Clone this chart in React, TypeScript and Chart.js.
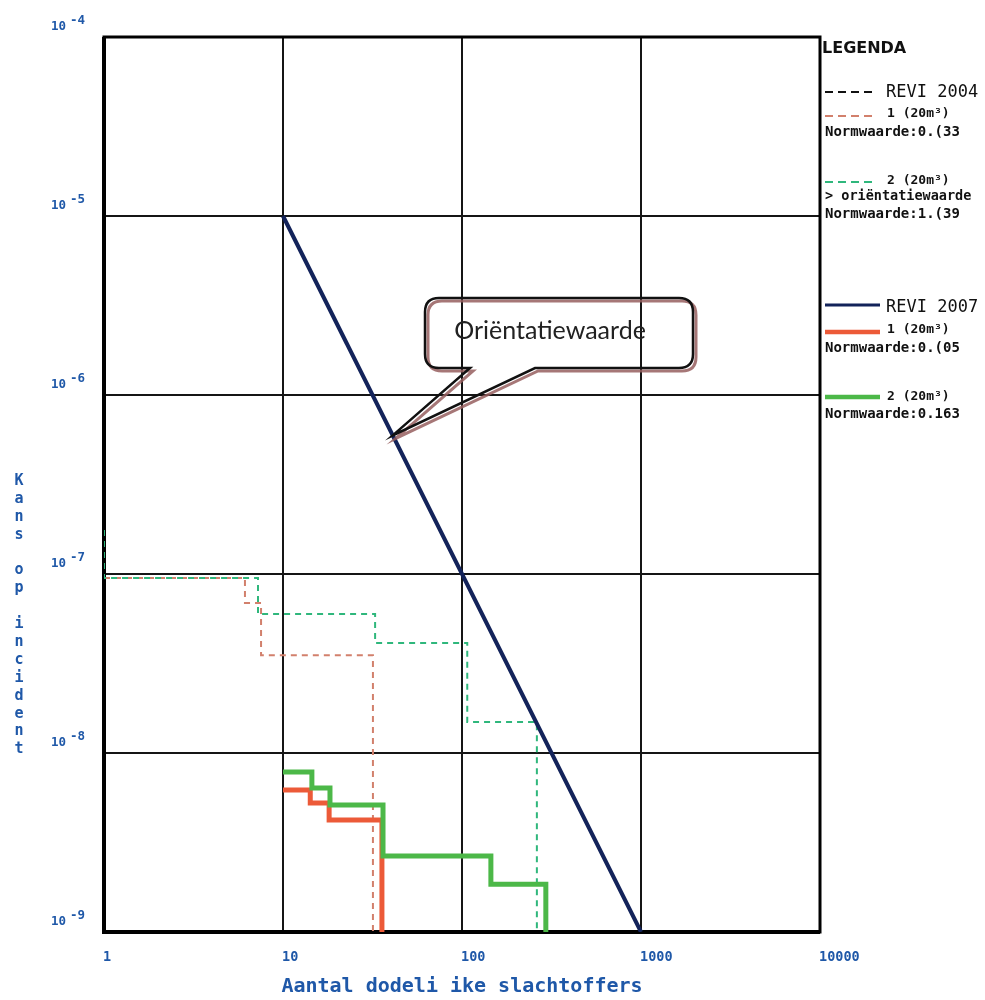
import React, { useEffect, useRef } from "react";
import { Chart, registerables } from "chart.js";

Chart.register(...registerables);

// ---- axes ----
const xTicks = [1, 10, 100, 1000, 10000];
const xTickLabels = ["1", "10", "100", "1000", "10000"];
const yTicks = [1e-9, 1e-8, 1e-7, 1e-6, 1e-5, 1e-4];
const yTickBase = "10";
const yTickExponents = ["-9", "-8", "-7", "-6", "-5", "-4"];
const xTitle = "Aantal dodeli ike slachtoffers";
const yTitle = "Kans op incident";

// ---- series (N = aantal slachtoffers, F = kans) ----
const orientN = [10, 1000];
const orientF = [1e-5, 1e-9];

const revi2007_1_N = [10, 14.2, 18.1, 35.7];
const revi2007_1_F = [6.21e-9, 5.26e-9, 4.23e-9, 1e-9];

const revi2007_2_N = [10, 14.5, 18.3, 36.2, 145, 294];
const revi2007_2_F = [7.83e-9, 6.37e-9, 5.13e-9, 2.66e-9, 1.85e-9, 1e-9];

const revi2004_1_N = [1, 6.13, 7.54, 31.8];
const revi2004_1_F = [9.5e-8, 6.89e-8, 3.52e-8, 1e-9];

const revi2004_2_N = [1, 1, 7.25, 32.7, 107, 262];
const revi2004_2_F = [1.76e-7, 9.5e-8, 5.98e-8, 4.12e-8, 1.49e-8, 1e-9];

// ---- legend texts ----
const legendTitle = "LEGENDA";
const legend2004 = ["REVI 2004", "1 (20m³)", "Normwaarde:0.(33", "2 (20m³)", "> oriëntatiewaarde", "Normwaarde:1.(39"];
const legend2007 = ["REVI 2007", "1 (20m³)", "Normwaarde:0.(05", "2 (20m³)", "Normwaarde:0.163"];
const calloutText = "Oriëntatiewaarde";
const calloutTipN = 41;

const NAVY = "#13235a";
const RED = "#ec5a38";
const GREEN = "#4cb848";
const RED_DASH = "#d2806c";
const GREEN_DASH = "#2fb77c";
const BLUE_TXT = "#1f58a8";
const MONO = "'DejaVu Sans Mono', monospace";

const pts = (n: number[], f: number[]) => n.map((v, i) => ({ x: v, y: f[i] }));

const decorPlugin = {
  id: "decor",
  beforeDatasetsDraw(chart: any) {
    const { ctx, chartArea: a } = chart;
    ctx.save();
    ctx.strokeStyle = "#000";
    ctx.lineWidth = 3;
    ctx.strokeRect(a.left, a.top, a.right - a.left, a.bottom - a.top);
    ctx.lineWidth = 4;
    ctx.beginPath();
    ctx.moveTo(a.left, a.top);
    ctx.lineTo(a.left, a.bottom);
    ctx.lineTo(a.right, a.bottom);
    ctx.stroke();
    ctx.restore();
  },
  afterDraw(chart: any) {
    const { ctx, chartArea: a } = chart;
    const xs = chart.scales.x;
    const ys = chart.scales.y;
    ctx.save();

    // x tick labels
    ctx.fillStyle = BLUE_TXT;
    ctx.font = `bold 13.5px ${MONO}`;
    ctx.textBaseline = "middle";
    ctx.textAlign = "left";
    xTicks.forEach((v, i) => {
      const px = xs.getPixelForValue(v);
      ctx.fillText(xTickLabels[i], px - 1, a.bottom + 25);
    });

    // y tick labels
    ctx.font = `bold 12.5px ${MONO}`;
    yTicks.forEach((v, i) => {
      const py = ys.getPixelForValue(v);
      ctx.fillText(yTickBase, 51, py - 10);
      ctx.fillText(yTickExponents[i], 70, py - 16);
    });

    // x title
    ctx.font = `bold 20px ${MONO}`;
    ctx.textAlign = "center";
    ctx.fillText(xTitle, (a.left + a.right) / 2, 987);

    // y title (stacked letters)
    ctx.font = `bold 15px ${MONO}`;
    const chars = Array.from(yTitle);
    chars.forEach((c, i) => {
      if (c !== " ") ctx.fillText(c, 19, 481 + i * 17.9);
    });

    // legend
    const lx = 825;
    ctx.textAlign = "left";
    ctx.fillStyle = "#111";
    ctx.font = "bold 16px 'DejaVu Sans', sans-serif";
    ctx.fillText(legendTitle, 822, 49);

    const dashLine = (y: number, color: string) => {
      ctx.save();
      ctx.strokeStyle = color;
      ctx.lineWidth = 2;
      ctx.setLineDash([8, 5]);
      ctx.beginPath();
      ctx.moveTo(lx, y);
      ctx.lineTo(lx + 52, y);
      ctx.stroke();
      ctx.restore();
    };
    const solidLine = (y: number, color: string, w: number) => {
      ctx.save();
      ctx.strokeStyle = color;
      ctx.lineWidth = w;
      ctx.beginPath();
      ctx.moveTo(lx, y);
      ctx.lineTo(lx + 55, y);
      ctx.stroke();
      ctx.restore();
    };

    dashLine(92, "#111");
    ctx.font = `17px ${MONO}`;
    ctx.fillText(legend2004[0], 886, 93);
    dashLine(116, RED_DASH);
    ctx.font = `bold 13px ${MONO}`;
    ctx.fillText(legend2004[1], 887, 114);
    ctx.font = `bold 14px ${MONO}`;
    ctx.fillText(legend2004[2], lx, 132);
    dashLine(182, GREEN_DASH);
    ctx.font = `bold 13px ${MONO}`;
    ctx.fillText(legend2004[3], 887, 181);
    ctx.font = `bold 13.5px ${MONO}`;
    ctx.fillText(legend2004[4], lx, 196);
    ctx.font = `bold 14px ${MONO}`;
    ctx.fillText(legend2004[5], lx, 214);

    solidLine(305, NAVY, 3);
    ctx.font = `17px ${MONO}`;
    ctx.fillText(legend2007[0], 886, 308);
    solidLine(332, RED, 4.5);
    ctx.font = `bold 13px ${MONO}`;
    ctx.fillText(legend2007[1], 887, 330);
    ctx.font = `bold 14px ${MONO}`;
    ctx.fillText(legend2007[2], lx, 348);
    solidLine(397, GREEN, 4.5);
    ctx.font = `bold 13px ${MONO}`;
    ctx.fillText(legend2007[3], 887, 397);
    ctx.font = `bold 14px ${MONO}`;
    ctx.fillText(legend2007[4], lx, 414);

    // callout
    const tipX = xs.getPixelForValue(calloutTipN);
    const tipY = ys.getPixelForValue(1e-3 / (calloutTipN * calloutTipN));
    const path = (dx: number, dy: number) => {
      const L = 425 + dx, T = 298 + dy, R = 693 + dx, B = 368 + dy, r = 14;
      ctx.beginPath();
      ctx.moveTo(L + r, T);
      ctx.lineTo(R - r, T);
      ctx.quadraticCurveTo(R, T, R, T + r);
      ctx.lineTo(R, B - r);
      ctx.quadraticCurveTo(R, B, R - r, B);
      ctx.lineTo(535 + dx, B);
      ctx.lineTo(tipX + dx, tipY + dy);
      ctx.lineTo(470 + dx, B);
      ctx.lineTo(L + r, B);
      ctx.quadraticCurveTo(L, B, L, B - r);
      ctx.lineTo(L, T + r);
      ctx.quadraticCurveTo(L, T, L + r, T);
      ctx.closePath();
    };
    ctx.lineJoin = "miter";
    ctx.strokeStyle = "rgba(150,95,95,0.85)";
    ctx.lineWidth = 3;
    path(3, 3);
    ctx.stroke();
    ctx.strokeStyle = "#111";
    ctx.lineWidth = 2.5;
    path(0, 0);
    ctx.stroke();
    ctx.fillStyle = "#222";
    ctx.font = "25px Lato, 'Open Sans', sans-serif";
    ctx.textAlign = "center";
    ctx.textBaseline = "middle";
    ctx.fillText(calloutText, 550, 331);

    ctx.restore();
  },
};

export default function App() {
  const ref = useRef<HTMLCanvasElement>(null);
  useEffect(() => {
    const chart = new Chart(ref.current as HTMLCanvasElement, {
      type: "line",
      data: {
        datasets: [
          {
            label: "Oriëntatiewaarde",
            data: pts(orientN, orientF),
            borderColor: NAVY,
            borderWidth: 4,
            pointRadius: 0,
          },
          {
            label: "REVI 2007 2 (20m³)",
            data: pts(revi2007_2_N, revi2007_2_F),
            borderColor: GREEN,
            borderWidth: 5,
            pointRadius: 0,
            stepped: true,
          },
          {
            label: "REVI 2007 1 (20m³)",
            data: pts(revi2007_1_N, revi2007_1_F),
            borderColor: RED,
            borderWidth: 5,
            pointRadius: 0,
            stepped: true,
          },
          {
            label: "REVI 2004 2 (20m³)",
            data: pts(revi2004_2_N, revi2004_2_F),
            borderColor: GREEN_DASH,
            borderWidth: 2,
            borderDash: [6, 5],
            pointRadius: 0,
            stepped: true,
          },
          {
            label: "REVI 2004 1 (20m³)",
            data: pts(revi2004_1_N, revi2004_1_F),
            borderColor: RED_DASH,
            borderWidth: 2,
            borderDash: [6, 5],
            pointRadius: 0,
            stepped: true,
          },
        ],
      },
      options: {
        animation: false,
        responsive: false,
        devicePixelRatio: 1,
        layout: { padding: { left: 104, right: 165, top: 37, bottom: 68 } },
        plugins: { legend: { display: false }, tooltip: { enabled: false } },
        scales: {
          x: {
            type: "logarithmic",
            min: 1,
            max: 10000,
            afterBuildTicks: (s: any) => {
              s.ticks = xTicks.map((v) => ({ value: v }));
            },
            afterFit: (s: any) => {
              s.height = 0;
            },
            ticks: { display: false },
            grid: { color: "#151515", lineWidth: 2, drawTicks: false },
            border: { display: false },
          },
          y: {
            type: "logarithmic",
            min: 1e-9,
            max: 1e-4,
            afterBuildTicks: (s: any) => {
              s.ticks = yTicks.map((v) => ({ value: v }));
            },
            afterFit: (s: any) => {
              s.width = 0;
            },
            ticks: { display: false },
            grid: { color: "#151515", lineWidth: 2, drawTicks: false },
            border: { display: false },
          },
        },
      } as any,
      plugins: [decorPlugin],
    });
    return () => chart.destroy();
  }, []);
  return (
    <div style={{ position: "absolute", left: 0, top: 0, width: 985, height: 1000, background: "#fff" }}>
      <canvas ref={ref} width={985} height={1000} style={{ display: "block", width: 985, height: 1000 }} />
    </div>
  );
}
